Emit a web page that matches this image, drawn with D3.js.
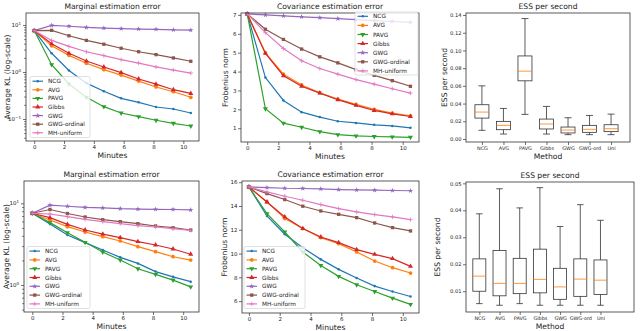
<!DOCTYPE html>
<html>
<head>
<meta charset="utf-8">
<script src="https://cdn.jsdelivr.net/npm/d3@7"></script>
<style>
  body { margin: 0; background: #fff; }
  text { font-family: "DejaVu Sans", sans-serif; fill: #222; }
</style>
</head>
<body>
<div id="chart"></div>
<script>
'use strict';

// data
var methods = ['NCG', 'AVG', 'PAVG', 'Gibbs', 'GWG', 'GWG-ordinal', 'MH-uniform'];
var colors = ['#1f77b4', '#ff7f0e', '#2ca02c', '#d62728', '#9467bd', '#8c564b', '#e377c2'];
var markers = ['point', 'circle', 'tridown', 'triup', 'star', 'square', 'plus'];
var minutes = [0, 1.17, 2.33, 3.5, 4.67, 5.83, 7, 8.17, 9.33, 10.5];
var minuteTicks = [0, 2, 4, 6, 8, 10];

// top row, marginal KL (log)
var klTop = [
  [7.6, 2.5, 1.08, 0.58, 0.39, 0.275, 0.226, 0.18, 0.163, 0.134],
  [7.6, 3.6, 2.26, 1.53, 1.12, 0.86, 0.64, 0.48, 0.38, 0.29],
  [7.6, 1.43, 0.556, 0.289, 0.183, 0.134, 0.112, 0.094, 0.081, 0.071],
  [7.6, 4.0, 2.5, 1.71, 1.28, 0.97, 0.71, 0.55, 0.42, 0.35],
  [7.6, 9.8, 9.4, 8.9, 8.6, 8.4, 8.2, 8.1, 7.9, 7.8],
  [7.6, 7.7, 5.9, 4.7, 3.9, 3.2, 2.7, 2.34, 1.99, 1.69],
  [7.6, 4.7, 3.5, 2.7, 2.23, 1.83, 1.55, 1.28, 1.10, 0.95]
];

// top row, covariance error
var covTop = [
  [7.05, 3.68, 2.47, 1.85, 1.59, 1.37, 1.28, 1.18, 1.12, 1.02],
  [7.05, 4.99, 3.86, 3.29, 2.88, 2.54, 2.26, 2.0, 1.8, 1.66],
  [7.05, 2.03, 1.27, 1.05, 0.82, 0.66, 0.59, 0.56, 0.54, 0.52],
  [7.05, 4.96, 3.77, 3.22, 2.86, 2.51, 2.21, 1.94, 1.76, 1.62],
  [7.05, 7.0, 6.95, 6.9, 6.85, 6.8, 6.75, 6.7, 6.65, 6.6],
  [7.05, 6.24, 5.70, 5.19, 4.78, 4.46, 4.1, 3.8, 3.52, 3.22],
  [7.05, 6.06, 5.22, 4.57, 4.16, 3.86, 3.57, 3.33, 3.09, 2.86]
];

// bottom row, marginal KL (log)
var klBottom = [
  [7.55, 5.58, 4.1, 3.3, 2.68, 2.18, 1.84, 1.46, 1.26, 1.1],
  [7.55, 6.25, 5.18, 4.45, 3.91, 3.46, 2.95, 2.56, 2.22, 2.02],
  [7.55, 5.8, 4.37, 3.33, 2.53, 2.02, 1.58, 1.35, 1.15, 0.95],
  [7.55, 6.67, 5.53, 4.71, 4.2, 3.8, 3.4, 3.09, 2.76, 2.38],
  [7.55, 9.5, 9.2, 8.9, 8.8, 8.6, 8.5, 8.45, 8.4, 8.3],
  [7.55, 8.4, 7.5, 6.8, 6.3, 5.97, 5.64, 5.28, 5.03, 4.71],
  [7.55, 7.4, 6.86, 6.37, 5.97, 5.64, 5.33, 5.13, 4.9, 4.67]
];

// bottom row, covariance error
var covBottom = [
  [15.6, 13.16, 11.62, 10.49, 9.51, 8.67, 7.94, 7.26, 6.81, 6.39],
  [15.6, 14.34, 12.94, 12.1, 11.34, 10.83, 10.13, 9.37, 8.81, 8.36],
  [15.6, 13.36, 11.81, 10.13, 9.0, 8.08, 7.37, 6.81, 6.25, 5.72],
  [15.6, 14.34, 13.08, 12.1, 11.39, 10.92, 10.33, 9.93, 9.57, 8.92],
  [15.6, 15.55, 15.49, 15.47, 15.44, 15.38, 15.35, 15.33, 15.3, 15.28],
  [15.6, 15.04, 14.54, 13.98, 13.58, 13.3, 13.02, 12.57, 12.18, 11.9],
  [15.6, 15.19, 14.82, 14.48, 14.12, 13.78, 13.5, 13.28, 13.08, 12.85]
];

// ESS per second box plots
var boxLabels = ['NCG', 'AVG', 'PAVG', 'Gibbs', 'GWG', 'GWG-ord', 'Uni'];
var essTopLow  = [0.0098, 0.0056, 0.0278, 0.0056, 0.0049, 0.0049, 0.0049];
var essTopQ1   = [0.0236, 0.0105, 0.0657, 0.0113, 0.0068, 0.0075, 0.0083];
var essTopMed  = [0.0304, 0.0154, 0.0766, 0.0169, 0.0101, 0.0109, 0.0116];
var essTopQ3   = [0.0387, 0.0199, 0.0938, 0.0225, 0.0135, 0.0154, 0.0161];
var essTopHigh = [0.060, 0.0345, 0.136, 0.0368, 0.024, 0.0266, 0.0281];
var essTopTicks = [0, 0.02, 0.04, 0.06, 0.08, 0.10, 0.12, 0.14];

var essBotLow  = [0.0054, 0.0048, 0.0054, 0.0048, 0.0048, 0.0048, 0.0048];
var essBotQ1   = [0.0100, 0.0083, 0.0091, 0.0094, 0.0070, 0.0081, 0.0088];
var essBotMed  = [0.0156, 0.0129, 0.0129, 0.0144, 0.0116, 0.0145, 0.0141];
var essBotQ3   = [0.0220, 0.0251, 0.0222, 0.0256, 0.0185, 0.0220, 0.0216];
var essBotHigh = [0.0387, 0.0480, 0.0409, 0.0484, 0.0340, 0.0421, 0.0363];
var essBotTicks = [0.01, 0.02, 0.03, 0.04, 0.05];

var svg = d3.select('#chart').append('svg')
  .attr('width', 640)
  .attr('height', 331);

var tickFont = 5.5;
var labelFont = 7.6;
var titleFont = 7.6;

// draw a marker of a given kind at (x, y)
function drawMarker(g, kind, color, x, y) {
  if (kind === 'plus') {
    g.append('path')
      .attr('d', 'M' + (x - 2.2) + ',' + y + 'h4.4M' + x + ',' + (y - 2.2) + 'v4.4')
      .attr('stroke', color)
      .attr('stroke-width', 0.8);
    return;
  }
  var sym = {
    point: [d3.symbolCircle, 5, 0],
    circle: [d3.symbolCircle, 11, 0],
    square: [d3.symbolSquare, 11, 0],
    triup: [d3.symbolTriangle, 11, 0],
    tridown: [d3.symbolTriangle, 11, 180],
    star: [d3.symbolStar, 9, 0]
  }[kind];
  g.append('path')
    .attr('d', d3.symbol().type(sym[0]).size(sym[1]))
    .attr('transform', 'translate(' + x + ',' + y + ') rotate(' + sym[2] + ')')
    .attr('fill', color);
}

function frame(g, f) {
  g.append('rect')
    .attr('x', f.x0)
    .attr('y', f.y0)
    .attr('width', f.x1 - f.x0)
    .attr('height', f.y1 - f.y0)
    .attr('fill', 'none')
    .attr('stroke', '#333')
    .attr('stroke-width', 0.8);
}

function styleAxis(ax, size) {
  ax.select('.domain').remove();
  ax.selectAll('line').attr('stroke', '#333').attr('stroke-width', 0.7);
  ax.selectAll('text')
    .style('font-size', (size || tickFont) + 'px')
    .style('font-family', 'DejaVu Sans')
    .attr('fill', '#222');
}

function titles(g, f, title, xlabel, ylabel, ylabelX) {
  var cx = (f.x0 + f.x1) / 2;
  g.append('text')
    .attr('x', cx)
    .attr('y', f.y0 - 4)
    .attr('text-anchor', 'middle')
    .style('font-size', titleFont + 'px')
    .text(title);
  g.append('text')
    .attr('x', cx)
    .attr('y', f.y1 + 16.5)
    .attr('text-anchor', 'middle')
    .style('font-size', labelFont + 'px')
    .text(xlabel);
  g.append('text')
    .attr('transform', 'translate(' + ylabelX + ',' + ((f.y0 + f.y1) / 2) + ') rotate(-90)')
    .attr('text-anchor', 'middle')
    .attr('dy', '0.35em')
    .style('font-size', labelFont + 'px')
    .text(ylabel);
}

// line chart panel
function linePanel(p) {
  var g = svg.append('g');
  var f = p.frame;

  var x = d3.scaleLinear().domain(p.xDomain).range([f.x0, f.x1]);
  var y = (p.log ? d3.scaleLog() : d3.scaleLinear())
    .domain(p.yDomain)
    .range([f.y1, f.y0]);

  // series
  p.series.forEach(function(vals, i) {
    var pts = minutes.map(function(m, j) { return [x(m), y(vals[j])]; });
    g.append('path')
      .attr('d', d3.line()(pts))
      .attr('fill', 'none')
      .attr('stroke', colors[i])
      .attr('stroke-width', 1.2);
    pts.forEach(function(pt) {
      drawMarker(g, markers[i], colors[i], pt[0], pt[1]);
    });
  });

  frame(g, f);

  // x axis
  var xa = g.append('g')
    .attr('transform', 'translate(0,' + f.y1 + ')')
    .call(d3.axisBottom(x).tickValues(minuteTicks).tickSize(3).tickPadding(1.5));
  styleAxis(xa);

  // y axis
  if (p.log) {
    var minor = [];
    var lo = Math.floor(Math.log10(p.yDomain[0]));
    var hi = Math.ceil(Math.log10(p.yDomain[1]));
    for (var e = lo; e <= hi; e++) {
      for (var k = 2; k <= 9; k++) {
        var v = k * Math.pow(10, e);
        if (v > p.yDomain[0] && v < p.yDomain[1]) minor.push(v);
      }
    }
    var ym = g.append('g')
      .attr('transform', 'translate(' + f.x0 + ',0)')
      .call(d3.axisLeft(y).tickValues(minor).tickSize(1.8).tickFormat(''));
    styleAxis(ym);
    var ya = g.append('g')
      .attr('transform', 'translate(' + f.x0 + ',0)')
      .call(d3.axisLeft(y).tickValues(p.yTicks).tickSize(3).tickPadding(1.5).tickFormat(''));
    styleAxis(ya);
    ya.selectAll('.tick').append('text')
      .attr('x', -5)
      .attr('dy', '0.2em')
      .attr('text-anchor', 'end')
      .style('font-size', tickFont + 'px')
      .attr('fill', '#222')
      .each(function(d) {
        var t = d3.select(this);
        var ex = Math.round(Math.log10(d));
        t.append('tspan').text('10');
        t.append('tspan')
          .attr('dy', '-0.45em')
          .style('font-size', '4px')
          .text(ex < 0 ? '\u2212' + (-ex) : ex);
      });
  } else {
    var yb = g.append('g')
      .attr('transform', 'translate(' + f.x0 + ',0)')
      .call(d3.axisLeft(y).tickValues(p.yTicks).tickSize(3).tickPadding(1.5).tickFormat(d3.format('d')));
    styleAxis(yb);
  }

  titles(g, f, p.title, 'Minutes', p.ylabel, p.ylabelX);

  // legend
  var L = p.legend;
  var lg = g.append('g');
  lg.append('rect')
    .attr('x', L.x)
    .attr('y', L.y)
    .attr('width', L.w)
    .attr('height', L.h)
    .attr('rx', 1.5)
    .attr('fill', '#fff')
    .attr('fill-opacity', 0.8)
    .attr('stroke', '#ccc')
    .attr('stroke-width', 0.6);
  methods.forEach(function(name, i) {
    var ly = L.y + L.first + i * L.step;
    lg.append('line')
      .attr('x1', L.x + 2.5)
      .attr('x2', L.x + 13)
      .attr('y1', ly)
      .attr('y2', ly)
      .attr('stroke', colors[i])
      .attr('stroke-width', 1.2);
    drawMarker(lg, markers[i], colors[i], L.x + 7.75, ly);
    lg.append('text')
      .attr('x', L.x + 18)
      .attr('y', ly)
      .attr('dy', '0.35em')
      .style('font-size', '5.8px')
      .text(name);
  });
}

// box plot panel
function boxPanel(p) {
  var g = svg.append('g');
  var f = p.frame;
  var idx = boxLabels.map(function(d, i) { return i + 1; });

  var x = d3.scaleLinear().domain(p.xDomain).range([f.x0, f.x1]);
  var y = d3.scaleLinear().domain(p.yDomain).range([f.y1, f.y0]);
  var bw = p.boxWidth;

  idx.forEach(function(pos, i) {
    var cx = x(pos);
    var stroke = '#333';
    // whiskers
    g.append('line')
      .attr('x1', cx).attr('x2', cx)
      .attr('y1', y(p.high[i])).attr('y2', y(p.q3[i]))
      .attr('stroke', stroke).attr('stroke-width', 0.8);
    g.append('line')
      .attr('x1', cx).attr('x2', cx)
      .attr('y1', y(p.q1[i])).attr('y2', y(p.low[i]))
      .attr('stroke', stroke).attr('stroke-width', 0.8);
    // caps
    [p.high[i], p.low[i]].forEach(function(v) {
      g.append('line')
        .attr('x1', cx - bw / 4).attr('x2', cx + bw / 4)
        .attr('y1', y(v)).attr('y2', y(v))
        .attr('stroke', stroke).attr('stroke-width', 0.8);
    });
    // box
    g.append('rect')
      .attr('x', cx - bw / 2)
      .attr('y', y(p.q3[i]))
      .attr('width', bw)
      .attr('height', y(p.q1[i]) - y(p.q3[i]))
      .attr('fill', 'none')
      .attr('stroke', stroke)
      .attr('stroke-width', 0.8);
    // median
    g.append('line')
      .attr('x1', cx - bw / 2).attr('x2', cx + bw / 2)
      .attr('y1', y(p.med[i])).attr('y2', y(p.med[i]))
      .attr('stroke', '#ff7f0e').attr('stroke-width', 0.8);
  });

  frame(g, f);

  var xa = g.append('g')
    .attr('transform', 'translate(0,' + f.y1 + ')')
    .call(d3.axisBottom(x).tickValues(idx).tickSize(3).tickPadding(1.5)
      .tickFormat(function(d) { return boxLabels[d - 1]; }));
  styleAxis(xa, 4.9);

  var ya = g.append('g')
    .attr('transform', 'translate(' + f.x0 + ',0)')
    .call(d3.axisLeft(y).tickValues(p.yTicks).tickSize(3).tickPadding(1.5).tickFormat(d3.format('.2f')));
  styleAxis(ya, 5.2);

  titles(g, f, 'ESS per second', 'Method', 'ESS per second', p.ylabelX);
}

linePanel({
  frame: {x0: 26, x1: 199, y0: 13, y1: 141},
  xDomain: [-0.55, 11.05],
  log: true,
  yDomain: [Math.pow(10, -1.468), Math.pow(10, 1.255)],
  yTicks: [0.1, 1, 10],
  series: klTop,
  title: 'Marginal estimation error',
  ylabel: 'Average KL (log-scale)',
  ylabelX: 7,
  legend: {x: 30, y: 76.5, w: 60, h: 61, first: 4.7, step: 8.6}
});

linePanel({
  frame: {x0: 241, x1: 419, y0: 13, y1: 142},
  xDomain: [-0.4, 11.05],
  log: false,
  yDomain: [0.27, 7.1],
  yTicks: [1, 2, 3, 4, 5, 6, 7],
  series: covTop,
  title: 'Covariance estimation error',
  ylabel: 'Frobenius norm',
  ylabelX: 225,
  legend: {x: 355, y: 12, w: 63, h: 63, first: 4.3, step: 9.1}
});

boxPanel({
  frame: {x0: 466, x1: 630, y0: 13, y1: 142},
  xDomain: [0.26, 7.88],
  yDomain: [-0.0034, 0.1423],
  yTicks: essTopTicks,
  boxWidth: 14,
  low: essTopLow, q1: essTopQ1, med: essTopMed, q3: essTopQ3, high: essTopHigh,
  ylabelX: 444
});

linePanel({
  frame: {x0: 24, x1: 199, y0: 181, y1: 312},
  xDomain: [-0.55, 11.05],
  log: true,
  yDomain: [Math.pow(10, -0.33), Math.pow(10, 1.273)],
  yTicks: [1, 10],
  series: klBottom,
  title: 'Marginal estimation error',
  ylabel: 'Average KL (log-scale)',
  ylabelX: 6,
  legend: {x: 27, y: 246.5, w: 63, h: 62, first: 4.6, step: 8.8}
});

linePanel({
  frame: {x0: 242, x1: 419, y0: 181, y1: 313},
  xDomain: [-0.45, 11.05],
  log: false,
  yDomain: [5.0, 16.1],
  yTicks: [6, 8, 10, 12, 14, 16],
  series: covBottom,
  title: 'Covariance estimation error',
  ylabel: 'Frobenius norm',
  ylabelX: 224,
  legend: {x: 244, y: 246.5, w: 61, h: 62, first: 4.6, step: 8.8}
});

boxPanel({
  frame: {x0: 466, x1: 634, y0: 182, y1: 312},
  xDomain: [0.34, 8.66],
  yDomain: [0.0023, 0.0505],
  yTicks: essBotTicks,
  boxWidth: 13,
  low: essBotLow, q1: essBotQ1, med: essBotMed, q3: essBotQ3, high: essBotHigh,
  ylabelX: 437
});
</script>
</body>
</html>
